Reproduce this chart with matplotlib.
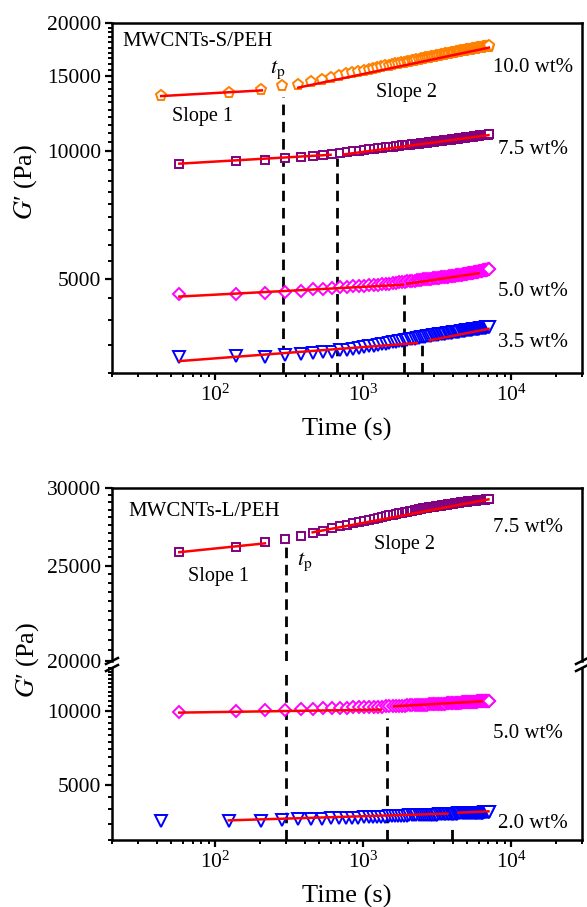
import numpy as np
import matplotlib
matplotlib.use("Agg")
import matplotlib.pyplot as plt
from matplotlib.ticker import LogLocator, NullFormatter
from matplotlib.lines import Line2D

plt.rcParams['font.family'] = ['Liberation Serif', 'DejaVu Serif']
plt.rcParams['mathtext.fontset'] = 'stix'

# sampling times (s), one point every 80 s
t_a = [43, 123, 203, 283, 363, 443, 523, 603, 683, 763, 843, 923,
       1003, 1083, 1163, 1243, 1323, 1403, 1483, 1563, 1643, 1723, 1803, 1883, 1963,
       2043, 2123, 2203, 2283, 2363, 2443, 2523, 2603, 2683, 2763, 2843, 2923,
       3003, 3083, 3163, 3243, 3323, 3403, 3483, 3563, 3643, 3723, 3803, 3883,
       3963, 4043, 4123, 4203, 4283, 4363, 4443, 4523, 4603, 4683, 4763, 4843,
       4923, 5003, 5083, 5163, 5243, 5323, 5403, 5483, 5563, 5643, 5723, 5803,
       5883, 5963, 6043, 6123, 6203, 6283, 6363, 6443, 6523, 6603, 6683, 6763,
       6843, 6923, 7003, 7083]
t_b = [57, 137, 217, 297, 377, 457, 537, 617, 697, 777, 857, 937,
       1017, 1097, 1177, 1257, 1337, 1417, 1497, 1577, 1657, 1737, 1817, 1897, 1977,
       2057, 2137, 2217, 2297, 2377, 2457, 2537, 2617, 2697, 2777, 2857, 2937,
       3017, 3097, 3177, 3257, 3337, 3417, 3497, 3577, 3657, 3737, 3817, 3897,
       3977, 4057, 4137, 4217, 4297, 4377, 4457, 4537, 4617, 4697, 4777, 4857,
       4937, 5017, 5097, 5177, 5257, 5337, 5417, 5497, 5577, 5657, 5737, 5817,
       5897, 5977, 6057, 6137, 6217, 6297, 6377, 6457, 6537, 6617, 6697, 6777,
       6857, 6937, 7017, 7097]

# MWCNTs-S/PEH  G' (Pa)
g_s100 = [13480, 13700, 13930, 14180, 14290, 14520, 14700, 14860, 15000, 15130, 15250, 15350,
          15450, 15535, 15620, 15690, 15760, 15820, 15880, 15935, 15990, 16040, 16090, 16135, 16180,
          16220, 16265, 16305, 16350, 16390, 16425, 16465, 16500, 16535, 16570, 16605, 16640,
          16670, 16700, 16730, 16760, 16790, 16815, 16845, 16870, 16895, 16920, 16945, 16970,
          16990, 17015, 17035, 17060, 17080, 17100, 17120, 17140, 17160, 17180, 17200, 17220,
          17240, 17255, 17275, 17290, 17305, 17320, 17335, 17350, 17365, 17380, 17395, 17410,
          17425, 17440, 17455, 17470, 17480, 17495, 17505, 17520, 17530, 17545, 17555, 17570,
          17580, 17595, 17605, 17620]
g_s75 = [9330, 9450, 9520, 9610, 9660, 9710, 9780, 9820, 9900, 9940, 9980, 10020,
         10060, 10090, 10120, 10145, 10170, 10195, 10220, 10240, 10260, 10280, 10300, 10315, 10330,
         10345, 10360, 10375, 10390, 10405, 10420, 10435, 10450, 10460, 10475, 10490, 10500,
         10515, 10525, 10540, 10550, 10560, 10570, 10580, 10590, 10600, 10610, 10620, 10630,
         10640, 10650, 10660, 10670, 10680, 10690, 10700, 10710, 10720, 10730, 10740, 10750,
         10757, 10765, 10772, 10780, 10787, 10795, 10802, 10810, 10817, 10825, 10832, 10840,
         10847, 10855, 10862, 10870, 10875, 10880, 10885, 10890, 10895, 10900, 10905, 10910,
         10918, 10925, 10933, 10940]
g_s50 = [4610, 4615, 4635, 4660, 4680, 4720, 4740, 4760, 4775, 4790, 4800, 4810,
         4820, 4828, 4835, 4843, 4850, 4860, 4870, 4880, 4890, 4900, 4910, 4920, 4930,
         4938, 4945, 4953, 4960, 4968, 4975, 4983, 4990, 4995, 5000, 5005, 5010,
         5015, 5020, 5025, 5030, 5035, 5040, 5045, 5050, 5055, 5060, 5065, 5070,
         5075, 5080, 5085, 5090, 5095, 5100, 5105, 5110, 5115, 5120, 5125, 5130,
         5135, 5140, 5145, 5150, 5155, 5160, 5165, 5170, 5175, 5180, 5185, 5190,
         5195, 5200, 5205, 5210, 5215, 5220, 5225, 5230, 5235, 5240, 5245, 5250,
         5255, 5260, 5265, 5270]
g_s35 = [3280, 3290, 3280, 3300, 3320, 3340, 3355, 3370, 3390, 3405, 3420, 3440,
         3455, 3468, 3480, 3493, 3505, 3518, 3530, 3540, 3550, 3560, 3570, 3580, 3590,
         3599, 3608, 3616, 3625, 3633, 3640, 3648, 3655, 3661, 3668, 3674, 3680,
         3685, 3690, 3695, 3700, 3704, 3708, 3711, 3715, 3719, 3723, 3726, 3730,
         3734, 3738, 3741, 3745, 3749, 3753, 3756, 3760, 3764, 3768, 3771, 3775,
         3778, 3780, 3783, 3785, 3789, 3793, 3796, 3800, 3803, 3805, 3808, 3810,
         3813, 3815, 3818, 3820, 3823, 3825, 3828, 3830, 3833, 3835, 3838, 3840,
         3843, 3845, 3848, 3850]

# MWCNTs-L/PEH  G' (Pa)
g_l75 = [25840, 26150, 26410, 26600, 26810, 26980, 27140, 27290, 27440, 27530, 27620, 27710,
         27790, 27855, 27920, 27975, 28030, 28080, 28130, 28175, 28220, 28260, 28300, 28340, 28380,
         28413, 28445, 28478, 28510, 28538, 28565, 28593, 28620, 28640, 28660, 28680, 28700,
         28718, 28735, 28753, 28770, 28788, 28805, 28823, 28840, 28855, 28870, 28885, 28900,
         28913, 28925, 28938, 28950, 28963, 28975, 28988, 29000, 29010, 29020, 29030, 29040,
         29050, 29060, 29070, 29080, 29088, 29095, 29103, 29110, 29118, 29125, 29133, 29140,
         29148, 29155, 29163, 29170, 29175, 29180, 29185, 29190, 29195, 29200, 29205, 29210,
         29215, 29220, 29225, 29230]
g_l50 = [9950, 10000, 10080, 10150, 10200, 10250, 10290, 10320, 10340, 10360, 10380, 10390,
         10400, 10415, 10430, 10445, 10460, 10475, 10490, 10500, 10510, 10525, 10540, 10555, 10570,
         10580, 10590, 10600, 10610, 10620, 10630, 10640, 10650, 10660, 10670, 10680, 10690,
         10698, 10705, 10713, 10720, 10730, 10740, 10750, 10760, 10770, 10780, 10790, 10800,
         10808, 10815, 10823, 10830, 10838, 10845, 10853, 10860, 10868, 10875, 10883, 10890,
         10898, 10905, 10913, 10920, 10925, 10930, 10935, 10940, 10945, 10950, 10955, 10960,
         10965, 10970, 10975, 10980, 10985, 10990, 10995, 11000, 11003, 11005, 11008, 11010,
         11013, 11015, 11018, 11020]
g_l20 = [3580, 3590, 3600, 3620, 3640, 3650, 3660, 3670, 3680, 3690, 3695, 3700,
         3710, 3715, 3720, 3725, 3730, 3735, 3740, 3745, 3750, 3755, 3760, 3765, 3770,
         3773, 3775, 3778, 3780, 3783, 3785, 3788, 3790, 3793, 3795, 3798, 3800,
         3803, 3805, 3808, 3810, 3813, 3815, 3818, 3820, 3823, 3825, 3828, 3830,
         3833, 3835, 3838, 3840, 3843, 3845, 3848, 3850, 3851, 3853, 3854, 3855,
         3856, 3858, 3859, 3860, 3861, 3863, 3864, 3865, 3866, 3868, 3869, 3870,
         3871, 3873, 3874, 3875, 3876, 3878, 3879, 3880, 3881, 3883, 3884, 3885,
         3886, 3888, 3889, 3890]

# fitted segments (slope 1 / slope 2): [t0, t1], [G0, G1]
fits_s = [([43, 206], [13460, 13880]), ([363, 7050], [14090, 17500]),
          ([57, 600], [9330, 9790]), ([737, 7000], [9810, 10890]),
          ([57, 1850], [4540, 4840]), ([1980, 6000], [4867, 5150]),
          ([57, 2300], [3200, 3530]), ([2800, 7000], [3580, 3810])]
fits_l = [([57, 216], [25810, 26350]), ([454, 7000], [27040, 29210]),
          ([57, 1310], [9880, 10160]), ([1610, 6300], [10480, 10980]),
          ([123, 3700], [3605, 3840]), ([4400, 7000], [3875, 3922])]

# t_p markers: time, G' at top of dashed line
tp_s = [284, 660, 1877, 2485]
tp_s_g = [13400, 9620, 4590, 3517]
tp_l = [302, 1438, 3950]
tp_l_g = [26400, 9370, 3510]

W, H = 587, 907
fig = plt.figure(figsize=(W / 100, H / 100), dpi=100)


def box(l, t, r, b):
    return [l / W, 1 - b / H, (r - l) / W, (b - t) / H]


def ftext(x, y, s, size=15, ha='left'):
    fig.text(x / W, 1 - y / H, s, fontsize=size, ha=ha, va='center')


mk = dict(mfc='white', mew=1.4, ls='none', zorder=2, clip_on=False)
fitkw = dict(color='red', lw=1.8, zorder=3)
dashkw = dict(color='black', lw=2, ls=(0, (3.8, 2.4)), zorder=1)


def style(ax, xaxis=True):
    ax.set_xscale('log')
    ax.set_yscale('log')
    ax.set_xlim(20, 30000)
    for s in ax.spines.values():
        s.set_linewidth(1.8)
    ax.tick_params(which='major', direction='out', length=5, width=1.6, labelsize=15.5,
                   top=False, right=False, pad=3)
    ax.tick_params(which='minor', direction='out', length=3.2, width=1.4,
                   top=False, right=False)
    ax.xaxis.set_major_locator(LogLocator(base=10))
    ax.xaxis.set_minor_locator(LogLocator(base=10, subs=np.arange(2, 10)))
    ax.xaxis.set_minor_formatter(NullFormatter())
    ax.yaxis.set_minor_formatter(NullFormatter())
    if not xaxis:
        ax.tick_params(axis='x', which='both', bottom=False, labelbottom=False)


# ---------------- top panel ----------------
ax1 = fig.add_axes(box(112, 23, 582, 373))
style(ax1)
ax1.set_ylim(3000, 20000)
ax1.set_yticks([5000, 10000, 15000, 20000])
ax1.set_yticklabels(['5000', '10000', '15000', '20000'])
ax1.set_yticks(np.arange(3000, 20001, 500), minor=True)

ax1.plot(t_b, g_s35, marker='v', ms=9, mec='#0000FF', **mk)
ax1.plot(t_b, g_s50, marker='D', ms=6, mec='#FF00FF', **mk)
ax1.plot(t_b, g_s75, marker='s', ms=5.8, mec='#800080', **mk)
ax1.plot(t_a, g_s100, marker='p', ms=8, mec='#FF8000', **mk)
for tt, gg in fits_s:
    ax1.plot(tt, gg, **fitkw)
for tt, gg in zip(tp_s, tp_s_g):
    ax1.plot([tt, tt], [3000, gg], **dashkw)

ftext(122, 42, 'MWCNTs-S/PEH')
ftext(278, 70, r'$t_{\mathrm{p}}$', size=16, ha='center')
ftext(202, 117, 'Slope 1', size=14.5, ha='center')
ftext(407, 92, 'Slope 2', size=14.5, ha='center')
ftext(493, 68, '10.0 wt%')
ftext(498, 150, '7.5 wt%')
ftext(498, 292, '5.0 wt%')
ftext(498, 343, '3.5 wt%')
fig.text(26 / W, 1 - 182 / H, '$G$\u2032 (Pa)', fontsize=19, rotation=90, ha='center', va='center')
fig.text(347 / W, 1 - 429 / H, 'Time (s)', fontsize=19, ha='center', va='center')

# ---------------- bottom panel (broken y axis) ----------------
ax2 = fig.add_axes(box(112, 488, 582, 661))
style(ax2, xaxis=False)
ax2.set_ylim(20000, 30000)
ax2.set_yticks([20000, 25000, 30000])
ax2.set_yticklabels(['20000', '25000', '30000'])
ax2.set_yticks(np.arange(20000, 30001, 500), minor=True)
ax2.spines['bottom'].set_visible(False)

ax3 = fig.add_axes(box(112, 668, 582, 840))
style(ax3)
ax3.set_ylim(3000, 15000)
ax3.set_yticks([5000, 10000])
ax3.set_yticklabels(['5000', '10000'])
ax3.set_yticks(np.arange(3000, 15001, 500), minor=True)
ax3.spines['top'].set_visible(False)

ax2.plot(t_b, g_l75, marker='s', ms=5.8, mec='#800080', **mk)
ax3.plot(t_b, g_l50, marker='D', ms=6, mec='#FF00FF', **mk)
ax3.plot(t_a, g_l20, marker='v', ms=9, mec='#0000FF', **mk)
ax2.plot(*fits_l[0], **fitkw)
ax2.plot(*fits_l[1], **fitkw)
for tt, gg in fits_l[2:]:
    ax3.plot(tt, gg, **fitkw)
ax2.plot([tp_l[0], tp_l[0]], [20000, tp_l_g[0]], **dashkw)
ax3.plot([tp_l[0], tp_l[0]], [3000, 15000], **dashkw)
for tt, gg in zip(tp_l[1:], tp_l_g[1:]):
    ax3.plot([tt, tt], [3000, gg], **dashkw)

# break marks on both spines
for xb in (112, 582):
    for yb in (661, 668):
        fig.add_artist(Line2D([(xb - 6) / W, (xb + 6) / W],
                              [1 - (yb + 3) / H, 1 - (yb - 3) / H],
                              color='black', lw=1.8))

ftext(128, 512, 'MWCNTs-L/PEH')
ftext(219, 577, 'Slope 1', size=14.5, ha='center')
ftext(305, 562, r'$t_{\mathrm{p}}$', size=16, ha='center')
ftext(404, 544, 'Slope 2', size=14.5, ha='center')
ftext(493, 528, '7.5 wt%')
ftext(493, 733, '5.0 wt%')
ftext(498, 823, '2.0 wt%')
fig.text(28 / W, 1 - 660 / H, '$G$\u2032 (Pa)', fontsize=19, rotation=90, ha='center', va='center')
fig.text(347 / W, 1 - 896 / H, 'Time (s)', fontsize=19, ha='center', va='center')

fig.savefig('out.png', dpi=100)
